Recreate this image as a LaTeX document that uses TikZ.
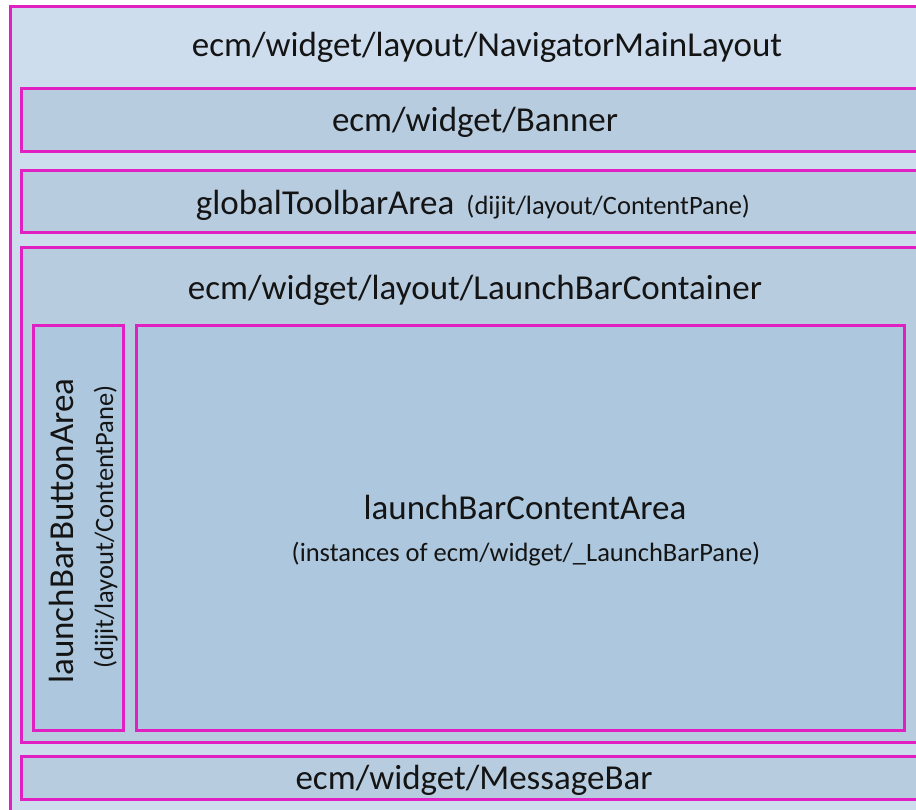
\documentclass[tikz,border=0pt]{standalone}
\usepackage{fontspec}
\setmainfont{Carlito}
\definecolor{outerfill}{RGB}{205,221,237}
\definecolor{innerfill}{RGB}{184,204,224}
\definecolor{contentfill}{RGB}{173,200,222}
\definecolor{magentaline}{RGB}{224,32,192}
\definecolor{txt}{RGB}{20,20,20}
\newcommand{\bigfs}{\fontsize{35}{40}\selectfont}
\newcommand{\smallfs}{\fontsize{26.5}{30}\selectfont}
\tikzset{
  box/.style={draw=magentaline, line width=3pt, rectangle, inner sep=0pt},
  lbl/.style={text=txt, inner sep=0pt, anchor=base, font=\bigfs},
  sublbl/.style={text=txt, inner sep=0pt, anchor=base, font=\smallfs},
}
\begin{document}
\begin{tikzpicture}[x=1pt,y=-1pt]
\useasboundingbox (0,0) rectangle (916,810);
\clip (0,0) rectangle (916,810);
\fill[white] (0,0) rectangle (916,810);
% outer
\draw[box, fill=outerfill] (10,7) rectangle (965,830);
\node[lbl] (title) at (487,57) {ecm/widget/layout/NavigatorMainLayout};
% banner
\draw[box, fill=innerfill] (21,89) rectangle (929,152);
\node[lbl] (banner) at (475,132) {ecm/widget/Banner};
% global toolbar
\draw[box, fill=innerfill] (21,171) rectangle (929,233);
\node[lbl] (toolbar) at (473,215) {globalToolbarArea\hspace{12pt}{\smallfs(dijit/layout/ContentPane)}};
% launch bar container
\draw[box, fill=innerfill] (21,248) rectangle (929,742);
\node[lbl] (container) at (475,300) {ecm/widget/layout/LaunchBarContainer};
% button area
\draw[box, fill=contentfill] (33,326) rectangle (123,730);
\node[lbl, rotate=90] (btn) at (73,531) {launchBarButtonArea};
\node[sublbl, rotate=90] (btnsub) at (113,527) {(dijit/layout/ContentPane)};
% content area
\draw[box, fill=contentfill] (136,326) rectangle (904,730);
\node[lbl] (content) at (525,519) {launchBarContentArea};
\node[sublbl] (contentsub) at (526,561) {(instances of ecm/widget/\_LaunchBarPane)};
% message bar
\draw[box, fill=innerfill] (21,756) rectangle (929,799);
\node[lbl] (msg) at (474,789) {ecm/widget/MessageBar};
\end{tikzpicture}
\end{document}
